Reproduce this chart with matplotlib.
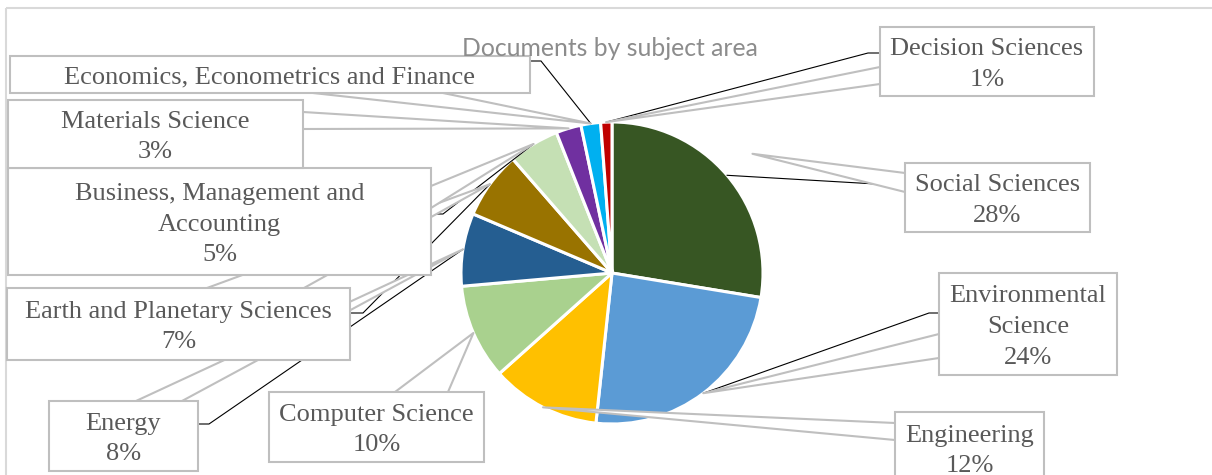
import matplotlib
matplotlib.use("Agg")
import numpy as np
import matplotlib.pyplot as plt
from matplotlib.patches import Rectangle, Polygon

# slices, clockwise from 12 o'clock
subjects = ["Social Sciences", "Environmental\nScience", "Engineering", "Computer Science",
            "Energy", "Earth and Planetary Sciences", "Business, Management and\nAccounting",
            "Materials Science", "Economics, Econometrics and Finance", "Decision Sciences"]
shares = [27.6, 24.1, 11.7, 10.2, 7.8, 7.2, 5.4, 2.7, 2.1, 1.2]
colors = ["#375623", "#5B9BD5", "#FFC000", "#A9D18E", "#255E91",
          "#997300", "#C5E0B4", "#7030A0", "#00B0F0", "#C00000"]
show_pct = [True, True, True, True, True, True, True, True, False, True]

# label boxes (x0, y0, x1, y1) in pixels, y downwards
boxes = [(905, 163, 1090, 232), (939, 273, 1117, 375), (895, 412, 1044, 484),
         (269, 392, 484, 462), (49, 401, 198, 471), (7, 288, 350, 360),
         (8, 168, 431, 275), (8, 100, 303, 168), (10, 56, 530, 93), (880, 27, 1094, 96)]
# grey callout wedge: two points on the box edge
wedge_base = [((905, 173), (905, 192)), ((939, 334), (939, 358)), ((895, 423), (895, 440)),
              ((395, 392), (448, 392)), ((136, 401), (182, 401)), ((207, 288), (304, 288)),
              ((431, 186), (431, 208)), ((303, 112), (303, 129)), ((313, 93), (443, 93)),
              ((880, 67), (880, 84))]
wedge_reach = [1.22, 1, 1, 1, 1, 1, 1, 1, 1, 1]
# black leader: start on box, elbow x (None = not visible)
leaders = [((905, 185), 893), ((939, 313), 929), None, None, ((198, 424), 209),
           ((350, 313), 363), ((431, 214), 443), None, ((530, 61), 541), ((880, 53), 868)]

W, H = 1212, 475
cx, cy, r = 612, 273, 151

fig = plt.figure(figsize=(W / 100, H / 100), dpi=100)
ax = fig.add_axes([0, 0, 1, 1])

ax.pie(shares, colors=colors, center=(cx, cy), radius=r, startangle=270, counterclock=True,
       wedgeprops=dict(edgecolor="white", linewidth=2.2), frame=False)
ax.set_xlim(0, W)
ax.set_ylim(H, 0)
ax.set_aspect("auto")
ax.axis("off")

# chart area border
ax.add_patch(Rectangle((6, 8), W + 50, H + 50, fill=False, edgecolor="#D9D9D9", lw=1.5, zorder=0))

ax.text(610, 48, "Documents by subject area", ha="center", va="center",
        fontsize=17.8, family="Lato", color="#8C8C8C", zorder=6)

cum = np.cumsum([0] + shares[:-1])
for i, name in enumerate(subjects):
    ang = np.deg2rad(270 + 3.6 * (cum[i] + shares[i] / 2))
    tip = (cx + r * np.cos(ang), cy + r * np.sin(ang))
    wtip = (cx + r * wedge_reach[i] * np.cos(ang), cy + r * wedge_reach[i] * np.sin(ang))

    if leaders[i] is not None:
        (sx, sy), ex = leaders[i]
        ax.plot([sx, ex, tip[0]], [sy, sy, tip[1]], color="black", lw=0.8, zorder=2,
                solid_joinstyle="miter")

    b1, b2 = wedge_base[i]
    ax.add_patch(Polygon([b1, wtip, b2], closed=True, facecolor="white", edgecolor="none", zorder=3))
    ax.plot([b1[0], wtip[0], b2[0]], [b1[1], wtip[1], b2[1]], color="#BFBFBF", lw=1.5, zorder=3)

    x0, y0, x1, y1 = boxes[i]
    ax.add_patch(Rectangle((x0, y0), x1 - x0, y1 - y0, facecolor="white", edgecolor="#BFBFBF",
                           lw=1.5, zorder=4))
    txt = name + (f"\n{round(shares[i])}%" if show_pct[i] else "")
    ax.text((x0 + x1) / 2, (y0 + y1) / 2 + 3, txt, ha="center", va="center", fontsize=19,
            family="Liberation Serif", color="#595959", linespacing=1.5, zorder=5)

fig.savefig("out.png", dpi=100)
